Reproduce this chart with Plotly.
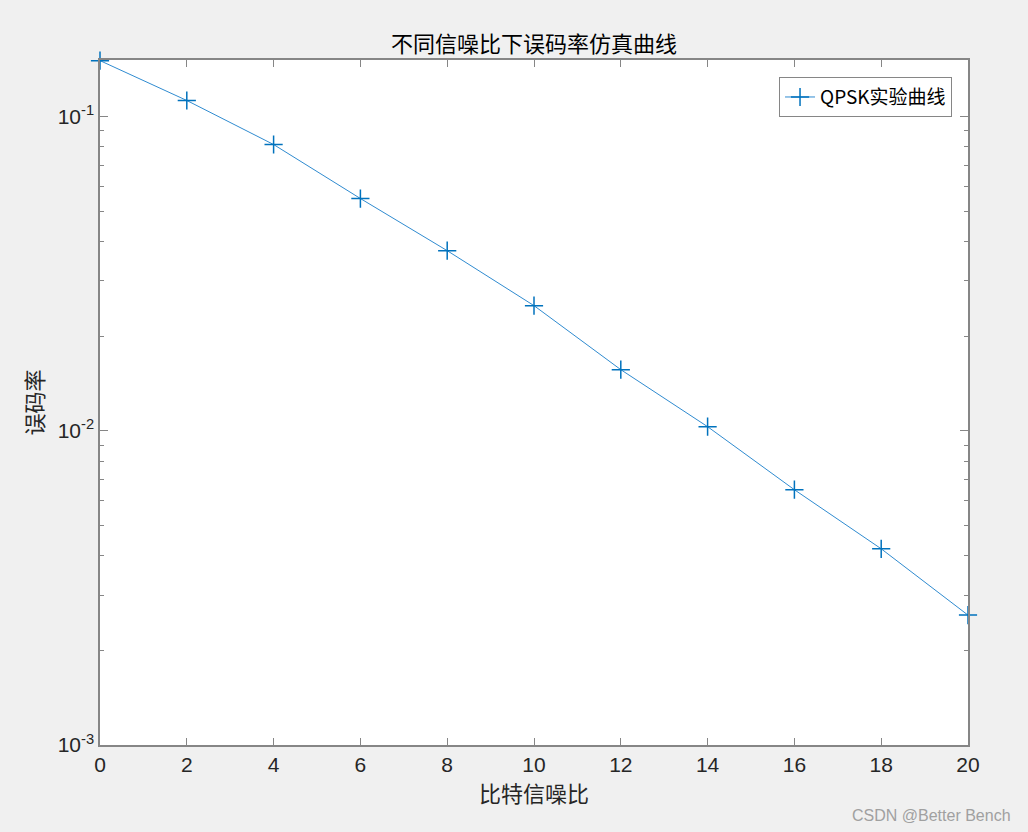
import math
import plotly.graph_objects as go

snr_db = [0, 2, 4, 6, 8, 10, 12, 14, 16, 18, 20]
ber = [0.1505, 0.1124, 0.0814, 0.0548, 0.0374, 0.0250, 0.01564, 0.0103, 0.00649, 0.00421, 0.00259]
x_ticks = [0, 2, 4, 6, 8, 10, 12, 14, 16, 18, 20]
y_tickvals = [1e-3, 1e-2, 1e-1]
y_ticktext = ["10<sup>-3</sup>", "10<sup>-2</sup>", "10<sup>-1</sup>"]
minor_vals = [m * d for d in (1e-3, 1e-2, 1e-1) for m in range(2, 10)]

num_font = "Liberation Sans, Arial, sans-serif"
cjk_font = "Noto Sans CJK SC, sans-serif"
axis_col = "#868686"
text_col = "#262626"

W, H = 1028, 832
ML, MT, MR, MB = 100, 60, 60, 87

fig = go.Figure()
fig.add_trace(go.Scatter(
    x=snr_db, y=ber, mode="lines+markers", name="QPSK实验曲线",
    line=dict(color="#2f8bd0", width=1), cliponaxis=False,
    marker=dict(symbol="cross-thin", size=13, line=dict(color="#0072BD", width=1.5), color="#0072BD"),
))

fig.update_layout(
    width=W, height=H,
    paper_bgcolor="#f0f0f0", plot_bgcolor="white",
    margin=dict(l=ML, r=MR, t=MT, b=MB),
    title=dict(text="不同信噪比下误码率仿真曲线", x=534 / W, xanchor="center",
               y=1 - 44 / H, yanchor="middle",
               font=dict(family=cjk_font, size=22, color="black")),
    showlegend=True,
    legend=dict(x=0.9816, y=0.975, xanchor="right", yanchor="top", bgcolor="white",
                bordercolor=axis_col, borderwidth=1, font=dict(family=cjk_font, size=19, color="black")),
    font=dict(family=num_font, color=text_col),
)
fig.add_annotation(text="CSDN @Better Bench", xref="paper", yref="paper", x=(1013 - ML) / 868,
                   y=(745 - 815) / 685, xanchor="right", yanchor="middle", showarrow=False,
                   font=dict(family=num_font, size=16, color="#a0a0a0"))
fig.update_xaxes(
    range=[0, 20], tickvals=x_ticks, ticks="inside", ticklen=7, tickcolor=axis_col,
    showline=True, linecolor=axis_col, linewidth=1.5, mirror="allticks", showgrid=False, zeroline=False,
    tickfont=dict(size=21, color=text_col, family=num_font),
    title=dict(text="比特信噪比", font=dict(family=cjk_font, size=22, color=text_col), standoff=7),
)
fig.update_yaxes(
    type="log", range=[-3, math.log10(0.1512)], tickvals=y_tickvals, ticktext=y_ticktext,
    ticks="inside", ticklen=8, tickcolor=axis_col,
    minor=dict(ticks="inside", ticklen=4, tickcolor=axis_col, showgrid=False, tickvals=minor_vals),
    showline=True, linecolor=axis_col, linewidth=1.5, mirror="allticks", showgrid=False, zeroline=False,
    tickfont=dict(size=21, color=text_col, family=num_font),
    title=dict(text="误码率", font=dict(family=cjk_font, size=22, color=text_col), standoff=8),
)
fig.write_html("out.html", config={"displayModeBar": False},
               post_script="document.body.style.margin='0';document.body.style.background='#f0f0f0';")
